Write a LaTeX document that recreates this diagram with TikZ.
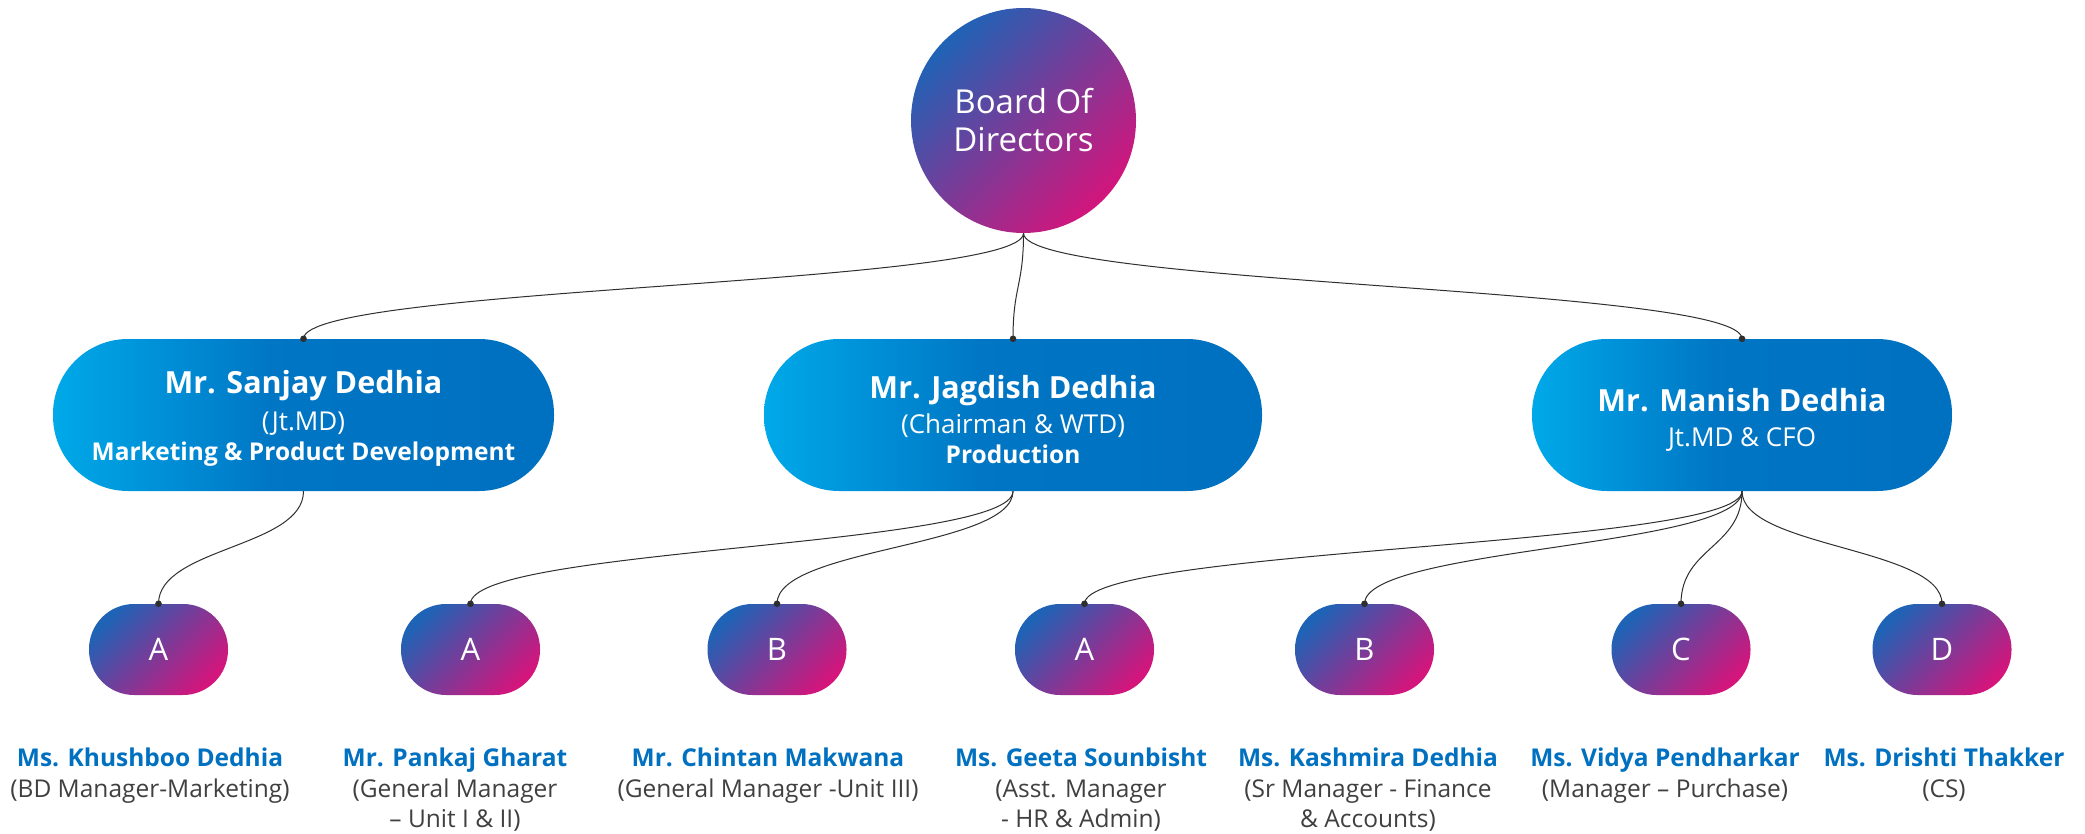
\documentclass[tikz,border=0pt]{standalone}
\usepackage{fontspec}
\setmainfont{Open Sans}
\usetikzlibrary{calc}
\definecolor{lblue}{HTML}{00A9E9}
\definecolor{dblue}{HTML}{0070C0}
\definecolor{gblue}{HTML}{1F63B6}
\definecolor{gmid}{HTML}{7A3B98}
\definecolor{gpink}{HTML}{D3157C}
\definecolor{namecol}{HTML}{0070C0}
\definecolor{subcol}{HTML}{404040}
\definecolor{linecol}{HTML}{2F2F2F}
\pgfdeclarehorizontalshading{mgrshade}{100bp}{color(0bp)=(lblue); color(25bp)=(lblue); color(47bp)=(dblue!90!lblue); color(75bp)=(dblue); color(100bp)=(dblue)}
\newcommand\orglink[2]{%
  \path ($(#1.south)!0.5!(#2.north)$) coordinate (m#2);
  \draw[conn] (#1.south) .. controls (#1.south |- m#2) and (#2.north |- m#2) .. (#2.north);
  \fill[linecol] (#2.north) circle (3.3pt);}
\begin{document}
\begin{tikzpicture}[x=1pt,y=-1pt,
  conn/.style={draw=linecol, line width=1pt},
  board/.style={circle, minimum size=225pt, inner sep=0pt, top color=gblue, bottom color=gpink, middle color=gmid, shading angle=45, text=white, align=center, font=\fontsize{33}{38}\selectfont},
  mgr/.style={rectangle, rounded corners=75pt, minimum height=152pt, inner sep=0pt, shade, shading=mgrshade},
  leaf/.style={rectangle, rounded corners=45pt, minimum width=139pt, minimum height=91pt, inner sep=0pt, top color=gblue, bottom color=gpink, middle color=gmid, shading angle=45, text=white, font=\fontsize{31}{36}\selectfont},
  ptitle/.style={anchor=base, text=white, inner sep=0pt, font=\fontsize{30.5}{36}\selectfont\bfseries},
  psub/.style={anchor=base, text=white, inner sep=0pt, font=\fontsize{26}{32}\selectfont},
  pdept/.style={anchor=base, text=white, inner sep=0pt, font=\fontsize{24.5}{28}\selectfont\bfseries},
  nm/.style={anchor=base, text=namecol, inner sep=0pt, font=\fontsize{24.5}{28}\selectfont\bfseries},
  sb/.style={anchor=base, text=subcol, inner sep=0pt, font=\fontsize{24.5}{28}\selectfont}
]
\fill[white] (0,0) rectangle (2085,834);
\useasboundingbox (0,0) rectangle (2085,834);

% Board
\node[board] (bod) at (1023.5,120.5) {Board Of\\Directors};

% Managers
\node[mgr, minimum width=501pt] (san) at (303.5,415) {};
\node[ptitle] (sanN) at (303.5,393) {Mr. Sanjay Dedhia};
\node[psub] (sanR) at (303.5,430) {(Jt.MD)};
\node[pdept] (sanD) at (303.5,460) {Marketing \& Product Development};

\node[mgr, minimum width=498pt] (jag) at (1013,415) {};
\node[ptitle] (jagN) at (1013,398) {Mr. Jagdish Dedhia};
\node[psub] (jagR) at (1013,433) {(Chairman \& WTD)};
\node[pdept] (jagD) at (1013,463) {Production};

\node[mgr, minimum width=420pt] (man) at (1742,415) {};
\node[ptitle] (manN) at (1742,411) {Mr. Manish Dedhia};
\node[psub] (manR) at (1742,446) {Jt.MD \& CFO};

% Leaves
\node[leaf] (l1) at (158.5,649.5) {A};
\node[leaf] (l2) at (470.5,649.5) {A};
\node[leaf] (l3) at (777,649.5) {B};
\node[leaf] (l4) at (1084.5,649.5) {A};
\node[leaf] (l5) at (1364.5,649.5) {B};
\node[leaf] (l6) at (1681,649.5) {C};
\node[leaf] (l7) at (1942,649.5) {D};

% Connectors
\orglink{bod}{san}
\orglink{bod}{jag}
\orglink{bod}{man}
\orglink{san}{l1}
\orglink{jag}{l2}
\orglink{jag}{l3}
\orglink{man}{l4}
\orglink{man}{l5}
\orglink{man}{l6}
\orglink{man}{l7}

% Labels
\node[nm] (t1) at (150,766) {Ms. Khushboo Dedhia};
\node[sb] (t1a) at (150,797) {(BD Manager-Marketing)};

\node[nm] (t2) at (455,766) {Mr. Pankaj Gharat};
\node[sb] (t2a) at (455,797) {(General Manager};
\node[sb] (t2b) at (455,827) {– Unit I \& II)};

\node[nm] (t3) at (768,766) {Mr. Chintan Makwana};
\node[sb] (t3a) at (768,797) {(General Manager -Unit III)};

\node[nm] (t4) at (1081,766) {Ms. Geeta Sounbisht};
\node[sb] (t4a) at (1081,797) {(Asst. Manager};
\node[sb] (t4b) at (1081,827) {- HR \& Admin)};

\node[nm] (t5) at (1368,766) {Ms. Kashmira Dedhia};
\node[sb] (t5a) at (1368,797) {(Sr Manager - Finance};
\node[sb] (t5b) at (1368,827) {\& Accounts)};

\node[nm] (t6) at (1665,766) {Ms. Vidya Pendharkar};
\node[sb] (t6a) at (1665,797) {(Manager – Purchase)};

\node[nm] (t7) at (1944,766) {Ms. Drishti Thakker};
\node[sb] (t7a) at (1944,797) {(CS)};
\end{tikzpicture}
\end{document}
